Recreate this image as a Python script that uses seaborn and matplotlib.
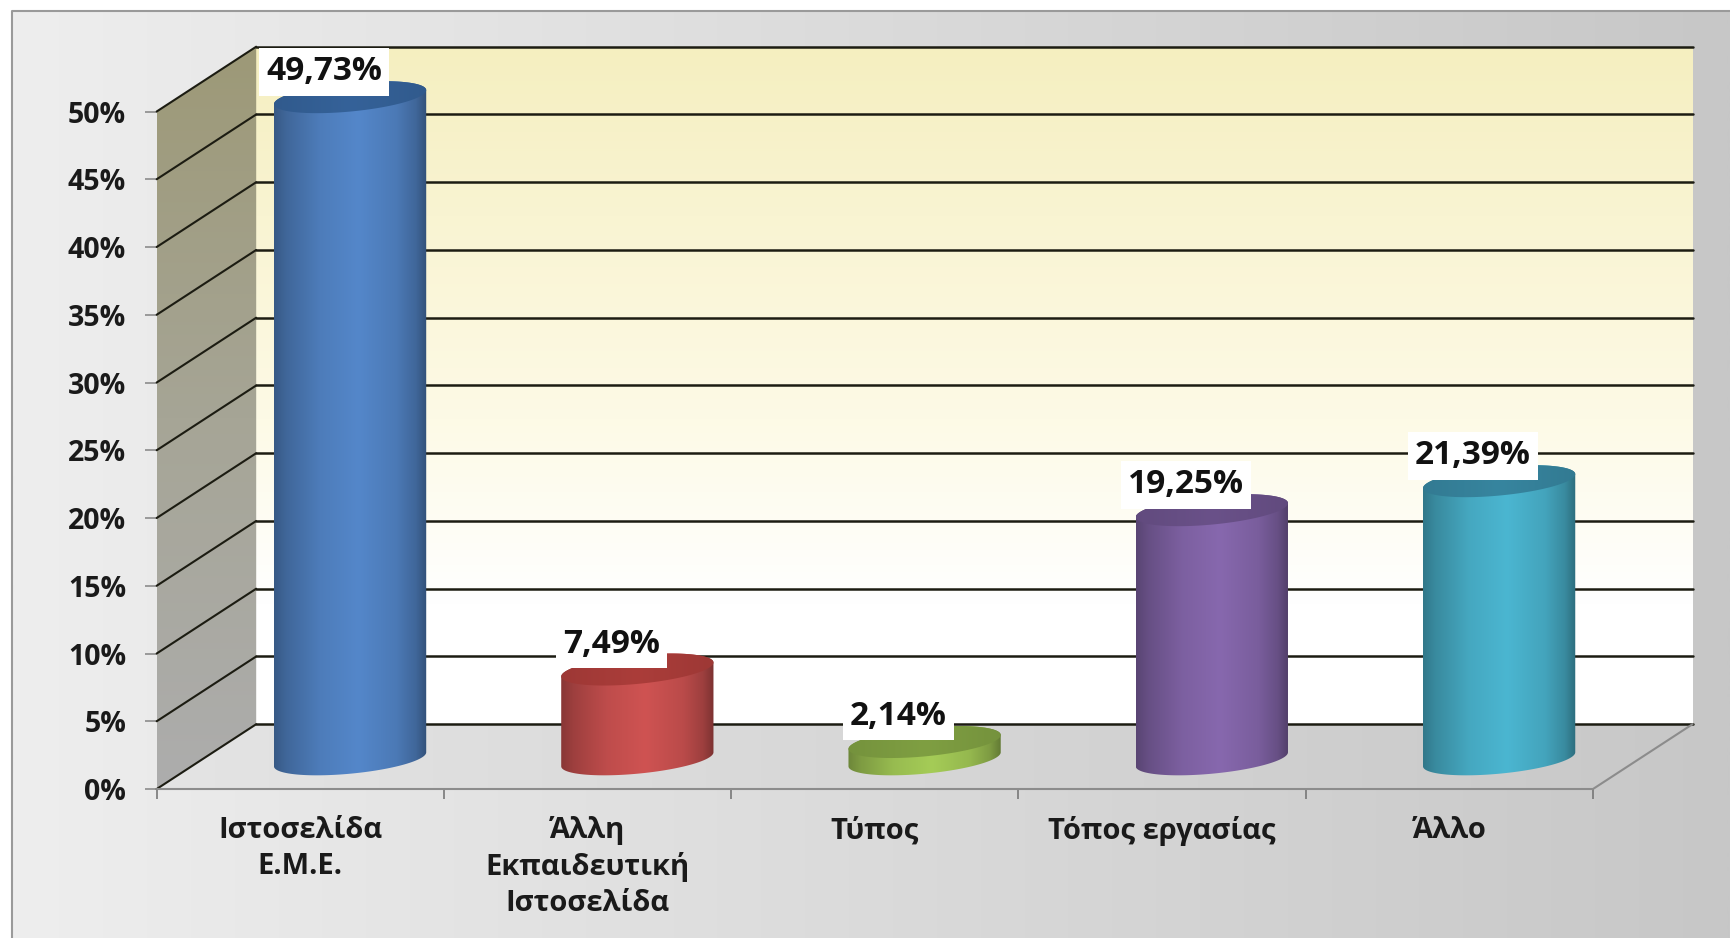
import numpy as np
import pandas as pd
import matplotlib
matplotlib.use("Agg")
import matplotlib.pyplot as plt
from matplotlib.patches import Polygon
from matplotlib.colors import to_rgb
import seaborn as sns

categories = ["Ιστοσελίδα\nΕ.Μ.Ε.", "Άλλη\nΕκπαιδευτική\nΙστοσελίδα", "Τύπος", "Τόπος εργασίας", "Άλλο"]
values = [49.73, 7.49, 2.14, 19.25, 21.39]
body_colors = ["#5487ca", "#cf5352", "#a5cc57", "#8768ae", "#4bb6d1"]
top_colors = ["#356299", "#ab3d3a", "#7f9f42", "#6a5189", "#37859f"]
y_ticks = [0, 5, 10, 15, 20, 25, 30, 35, 40, 45, 50]

sns.set_theme(style="white")
plt.rcParams["font.family"] = ["Open Sans", "DejaVu Sans"]

W, H = 1730, 938
fig = plt.figure(figsize=(W / 100, H / 100), dpi=100, facecolor="white")

# page background
bg = fig.add_axes([0, 0, 1, 1], zorder=-1)
bg.axis("off")
c0, c1 = np.array(to_rgb("#eeeeee")), np.array(to_rgb("#c7c7c7"))
tt = np.linspace(0, 1, 256)[None, :, None]
bg.imshow(c0 + (c1 - c0) * tt, extent=(12, W, H, 11), aspect="auto", interpolation="bilinear")
bg.set_xlim(0, W)
bg.set_ylim(H, 0)
bg.plot([12, 12, W], [H, 11, 11], color="#9a9a9a", lw=1.5)

L, R, B, T = 156.7, 1593, 789, 111.5
ax = fig.add_axes([L / W, 1 - B / H, (R - L) / W, (B - T) / H])
ax.patch.set_visible(False)

df = pd.DataFrame({"cat": categories, "val": values})
sns.barplot(data=df, x="cat", y="val", hue="cat", palette=body_colors, legend=False,
            width=0.53, ax=ax, saturation=1, zorder=5)

ax.set_xlim(-0.5, 4.5)
ax.set_ylim(0, 50)
PX = (R - L) / 5
PY = (B - T) / 50
DX = 99.5 / PX
DY = 64.8 / PY
X0, X1 = -0.5, 4.5


def grad_poly(pts, rgb, extent, z):
    p = Polygon(pts, closed=True, fc="none", ec="none", clip_on=False, zorder=z)
    ax.add_patch(p)
    im = ax.imshow(rgb, extent=extent, aspect="auto", zorder=z, interpolation="bilinear",
                   origin="lower")
    im.set_clip_box(fig.bbox)
    im.set_clip_path(p)
    return im


def vgrad(stops):
    pos = [s[0] for s in stops]
    cols = np.array([to_rgb(s[1]) for s in stops])
    t = np.linspace(0, 1, 256)
    return np.stack([np.interp(t, pos, cols[:, i]) for i in range(3)], axis=-1)[:, None, :]


def hgrad(stops):
    return np.transpose(vgrad(stops), (1, 0, 2))


# back wall
grad_poly([(X0 + DX, DY), (X1 + DX, DY), (X1 + DX, 50 + DY), (X0 + DX, 50 + DY)],
          vgrad([(0, "#ffffff"), (0.18, "#ffffff"), (0.45, "#fdfae6"), (0.75, "#f9f4d2"), (1, "#f5efc0")]),
          (X0 + DX, X1 + DX, DY, 50 + DY), 1)
# side wall
grad_poly([(X0, 0), (X0 + DX, DY), (X0 + DX, 50 + DY), (X0, 50)],
          vgrad([(0, "#adadad"), (0.5, "#a6a596"), (1, "#9d9977")]),
          (X0, X0 + DX, 0, 50 + DY), 1)
# floor
grad_poly([(X0, 0), (X1, 0), (X1 + DX, DY), (X0 + DX, DY)],
          hgrad([(0, "#e4e4e4"), (1, "#c8c8c8")]),
          (X0, X1 + DX, 0, DY), 1)

# grid lines on the walls
for v in y_ticks:
    ax.plot([X0, X0 + DX], [v, v + DY], color="#1c1c12", lw=1.5, clip_on=False, zorder=2)
    ax.plot([X0 + DX, X1 + DX], [v + DY, v + DY], color="#1c1c12", lw=1.8, clip_on=False, zorder=2)
# floor edges
ax.plot([X0, X1, X1 + DX], [0, 0, DY], color="#8c8c8c", lw=1.5, clip_on=False, zorder=2)

# cylinders, built on the geometry of the seaborn bars
a_px, b_px, tilt_px = 76, 14.4, 7
b, tilt = b_px / PY, tilt_px / PY
y_base = DY / 2 - 0.2
ts = np.linspace(0, 2 * np.pi, 200)
front = np.linspace(np.pi, 2 * np.pi, 100)
back = np.linspace(0, np.pi, 100)
profile_x = [0, 0.08, 0.3, 0.55, 0.8, 0.93, 1]
profile_f = [0.66, 0.76, 0.92, 1.0, 0.9, 0.76, 0.6]

for i, bar in enumerate(ax.patches[:len(values)]):
    v = bar.get_height()
    w = bar.get_width()
    cx = bar.get_x() + w / 2 + DX / 2
    a = w / 2
    y_top = v + DY / 2 - b
    # keep the seaborn bar as the core of the cylinder, inside its outline
    bar.set_x(cx - 0.8 * a)
    bar.set_width(1.6 * a)
    bar.set_y(y_base)
    bar.set_height(y_top - y_base)
    bar.set_edgecolor("none")
    bar.set_clip_on(False)

    def ell(t, yc):
        return np.column_stack([cx + a * np.cos(t), yc + b * np.sin(t) + tilt * np.cos(t)])

    outline = np.vstack([ell(front, y_base), ell(back, y_top)])
    x = np.linspace(0, 1, 256)
    f = np.interp(x, profile_x, profile_f)[None, :, None]
    rgb = np.array(to_rgb(body_colors[i]))[None, None, :] * f
    grad_poly(outline, rgb, (cx - a, cx + a, y_base - 2 * b, y_top + 2 * b), 6)
    # top face
    f2 = np.interp(x, [0, 0.5, 1], [0.92, 1.0, 0.92])[None, :, None]
    rgb2 = np.array(to_rgb(top_colors[i]))[None, None, :] * f2
    grad_poly(ell(ts, y_top), rgb2, (cx - a, cx + a, y_top - 2 * b, y_top + 2 * b), 7)
    # value label
    ax.annotate(f"{v:.2f}".replace(".", ",") + "%", xy=(cx, v + DY / 2),
                xytext=(-26 * 0.72, 11 * 0.72), textcoords="offset points",
                ha="center", va="center", fontsize=24, fontweight="bold", color="#111111",
                annotation_clip=False, zorder=9,
                bbox=dict(boxstyle="square,pad=0.22", fc="white", ec="none"))

ax.set_xlim(-0.5, 4.5)
ax.set_ylim(0, 50)

# axes
sns.despine(ax=ax, left=True, bottom=True, right=True, top=True)
ax.set_xlabel("")
ax.set_ylabel("")
ax.set_yticks(y_ticks)
ax.set_yticklabels([f"{v}%" for v in y_ticks], fontsize=20.5, fontweight="bold", color="#1a1a1a")
ax.set_xticks(range(len(categories)))
ax.set_xticklabels(categories, fontsize=21, fontweight="bold", color="#1a1a1a", linespacing=1.32, va="top")
ax.set_xticks(np.arange(X0, X1 + 0.5, 1), minor=True)
ax.tick_params(axis="y", length=9, width=1.2, color="#8c8c8c", pad=13, left=True)
ax.tick_params(axis="x", which="major", length=0, pad=19.5)
ax.tick_params(axis="x", which="minor", length=7, width=1.2, color="#777777", bottom=True)

fig.savefig("out.png", dpi=100, facecolor="white")
